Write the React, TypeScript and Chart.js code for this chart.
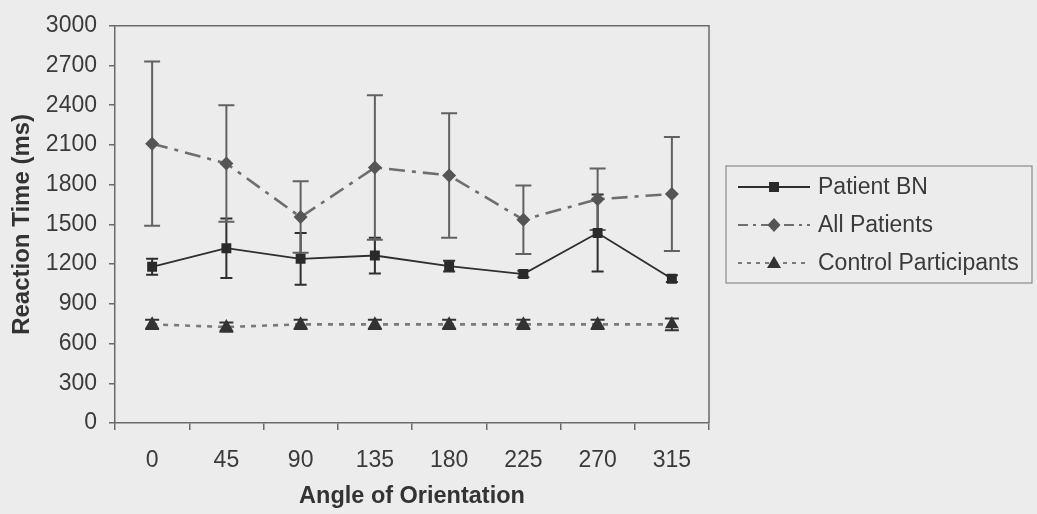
import React, { useEffect, useRef } from "react";
import { Chart, registerables } from "chart.js";

Chart.register(...registerables);

// Angle of orientation (degrees)
const angles = ["0", "45", "90", "135", "180", "225", "270", "315"];

// Mean reaction times (ms) and error-bar half widths
const patientBN = [1180, 1320, 1240, 1265, 1185, 1125, 1435, 1090];
const patientBNErr = [60, 225, 195, 135, 40, 25, 290, 25];

const allPatients = [2110, 1960, 1555, 1930, 1870, 1535, 1690, 1730];
const allPatientsErr = [620, 440, 270, 545, 470, 258, 232, 430];

const controls = [745, 725, 745, 745, 745, 745, 745, 745];
const controlsErr = [35, 35, 35, 35, 35, 35, 35, 45];

const seriesNames = ["Patient BN", "All Patients", "Control Participants"];

const yTicks = [0, 300, 600, 900, 1200, 1500, 1800, 2100, 2400, 2700, 3000];

const FONT = "'Liberation Sans', Arial, Helvetica, sans-serif";
const TEXT = "#3a3a3a";
const AXIS = "#6a6a6a";

const styles = [
  { line: "#2e2e2e", point: "#2a2a2a", err: "#2e2e2e", dash: [] as number[], lw: 1.8, shape: "square", cap: 6 },
  { line: "#6e6e6e", point: "#555555", err: "#616161", dash: [16, 7, 4, 7], lw: 2.6, shape: "diamond", cap: 8 },
  { line: "#7a7a7a", point: "#333333", err: "#333333", dash: [5, 6], lw: 2.6, shape: "triangle", cap: 7 },
];
const errSets = [patientBNErr, allPatientsErr, controlsErr];

function drawMarker(ctx: CanvasRenderingContext2D, shape: string, x: number, y: number, color: string) {
  ctx.save();
  ctx.fillStyle = color;
  ctx.beginPath();
  if (shape === "square") {
    ctx.rect(x - 5, y - 5, 10, 10);
  } else if (shape === "diamond") {
    ctx.moveTo(x, y - 7);
    ctx.lineTo(x + 6.5, y);
    ctx.lineTo(x, y + 7);
    ctx.lineTo(x - 6.5, y);
    ctx.closePath();
  } else {
    ctx.moveTo(x, y - 7);
    ctx.lineTo(x + 7, y + 5);
    ctx.lineTo(x - 7, y + 5);
    ctx.closePath();
  }
  ctx.fill();
  ctx.restore();
}

export default function App() {
  const ref = useRef<HTMLCanvasElement>(null);

  useEffect(() => {
    const canvas = ref.current;
    if (!canvas) return;

    const errorBars = {
      id: "errorBars",
      beforeDatasetsDraw(chart: any) {
        const { ctx, scales } = chart;
        const x = scales.x;
        const y = scales.y;
        chart.data.datasets.forEach((ds: any, di: number) => {
          const st = styles[di];
          const errs = errSets[di];
          ctx.save();
          ctx.strokeStyle = st.err;
          ctx.lineWidth = 2;
          ds.data.forEach((v: number, i: number) => {
            const px = x.getPixelForValue(i);
            const top = y.getPixelForValue(v + errs[i]);
            const bot = y.getPixelForValue(v - errs[i]);
            ctx.beginPath();
            ctx.moveTo(px, top);
            ctx.lineTo(px, bot);
            ctx.moveTo(px - st.cap, top);
            ctx.lineTo(px + st.cap, top);
            ctx.moveTo(px - st.cap, bot);
            ctx.lineTo(px + st.cap, bot);
            ctx.stroke();
          });
          ctx.restore();
        });
      },
    };

    const decorations = {
      id: "decorations",
      afterDraw(chart: any) {
        const { ctx, chartArea } = chart;
        ctx.save();
        // top and right frame of the plot area
        ctx.strokeStyle = AXIS;
        ctx.lineWidth = 1.5;
        ctx.beginPath();
        ctx.moveTo(chartArea.left, chartArea.top);
        ctx.lineTo(chartArea.right, chartArea.top);
        ctx.lineTo(chartArea.right, chartArea.bottom);
        ctx.stroke();

        // axis titles
        ctx.fillStyle = "#333333";
        ctx.font = `bold 23.5px ${FONT}`;
        ctx.textAlign = "center";
        ctx.textBaseline = "middle";
        ctx.fillText("Angle of Orientation", (chartArea.left + chartArea.right) / 2, 497);
        ctx.save();
        ctx.translate(22, (chartArea.top + chartArea.bottom) / 2);
        ctx.rotate(-Math.PI / 2);
        ctx.font = `bold 24px ${FONT}`;
        ctx.fillText("Reaction Time (ms)", 0, 0);
        ctx.restore();

        // legend
        const lx = 726, ly = 166, lw = 306, lh = 117;
        ctx.strokeStyle = "#8a8a8a";
        ctx.lineWidth = 1.2;
        ctx.strokeRect(lx, ly, lw, lh);
        const rows = [187, 225, 263];
        ctx.font = `23px ${FONT}`;
        ctx.textAlign = "left";
        seriesNames.forEach((name, i) => {
          const st = styles[i];
          const ry = rows[i];
          ctx.save();
          ctx.strokeStyle = st.line;
          ctx.lineWidth = i === 0 ? 1.8 : 2.2;
          ctx.setLineDash(i === 1 ? [10, 5, 3, 5] : i === 2 ? [4, 5] : []);
          ctx.beginPath();
          ctx.moveTo(738, ry);
          ctx.lineTo(810, ry);
          ctx.stroke();
          ctx.restore();
          drawMarker(ctx, st.shape, 774, ry, st.point);
          ctx.fillStyle = TEXT;
          ctx.fillText(name, 818, ry + 1);
        });
        ctx.restore();
      },
    };

    const chart = new Chart(canvas, {
      type: "line",
      data: {
        labels: angles,
        datasets: [patientBN, allPatients, controls].map((d, i) => ({
          label: seriesNames[i],
          data: d,
          borderColor: styles[i].line,
          borderWidth: styles[i].lw,
          borderDash: styles[i].dash,
          backgroundColor: styles[i].point,
          pointBackgroundColor: styles[i].point,
          pointBorderColor: styles[i].point,
          pointBorderWidth: 0,
          pointStyle: i === 0 ? "rect" : i === 1 ? "rectRot" : "triangle",
          pointRadius: i === 0 ? 7 : i === 1 ? 7 : 8,
          tension: 0,
          fill: false,
        })),
      },
      options: {
        responsive: false,
        animation: false,
        events: [],
        layout: { padding: { left: 0, right: 328, top: 25, bottom: 0 } },
        plugins: {
          legend: { display: false },
          tooltip: { enabled: false },
          title: { display: false },
        },
        scales: {
          x: {
            type: "category",
            offset: true,
            grid: {
              offset: true,
              drawOnChartArea: false,
              drawTicks: true,
              tickLength: 7,
              color: AXIS,
              lineWidth: 1.5,
            },
            border: { display: true, color: AXIS, width: 1.5 },
            ticks: {
              color: TEXT,
              font: { family: FONT, size: 23 },
              padding: 17,
              maxRotation: 0,
              autoSkip: false,
            },
            afterFit(scale: any) {
              scale.height = 91;
            },
          },
          y: {
            min: 0,
            max: 3000,
            afterBuildTicks(scale: any) {
              scale.ticks = yTicks.map((v) => ({ value: v }));
            },
            grid: {
              drawOnChartArea: false,
              drawTicks: true,
              tickLength: 6,
              color: AXIS,
              lineWidth: 1.5,
            },
            border: { display: true, color: AXIS, width: 1.5 },
            ticks: {
              color: TEXT,
              font: { family: FONT, size: 23 },
              padding: 12,
              callback: (value: any) => String(value),
            },
            afterFit(scale: any) {
              scale.width = 115;
            },
          },
        },
      },
      plugins: [errorBars, decorations],
    });

    return () => chart.destroy();
  }, []);

  return (
    <div
      style={{
        position: "fixed",
        left: 0,
        top: 0,
        width: 1037,
        height: 514,
        background: "#ececec",
      }}
    >
      <canvas ref={ref} width={1037} height={514} style={{ display: "block" }} />
    </div>
  );
}
